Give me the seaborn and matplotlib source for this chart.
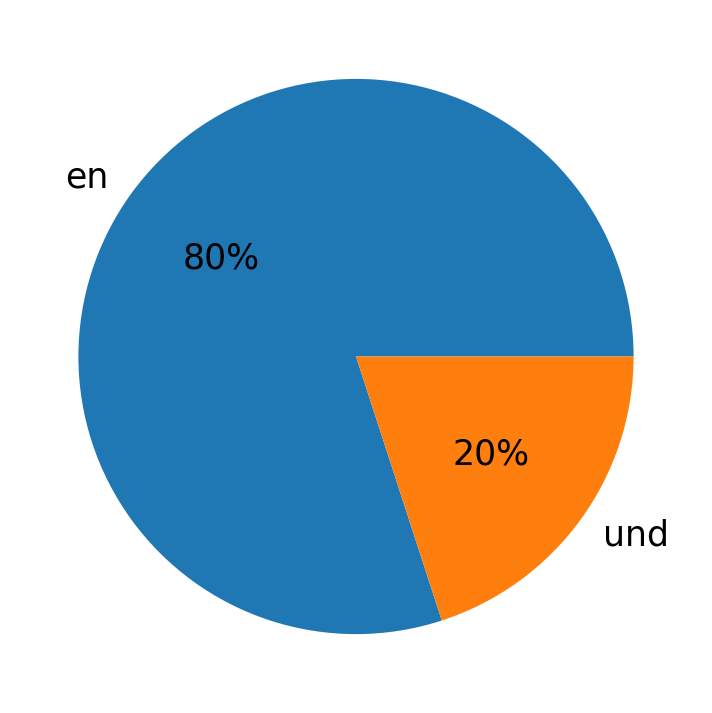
import matplotlib
matplotlib.use("Agg")
import matplotlib.pyplot as plt
import seaborn as sns

# language share
languages = ["en", "und"]
shares = [80, 20]

colors = sns.color_palette("tab10", len(languages))

fig = plt.figure(figsize=(7.12, 7.13), dpi=100)
# pie keeps +-1.25 limits, so the axes is 1.25x the pie diameter
ax = fig.add_axes([9 / 712, 9.5 / 713, 694 / 712, 694 / 713])
ax.pie(shares, labels=languages, colors=colors, autopct="%1.0f%%",
       textprops={"fontsize": 25})
ax.set_aspect("equal")

fig.savefig("out.png", dpi=100)
